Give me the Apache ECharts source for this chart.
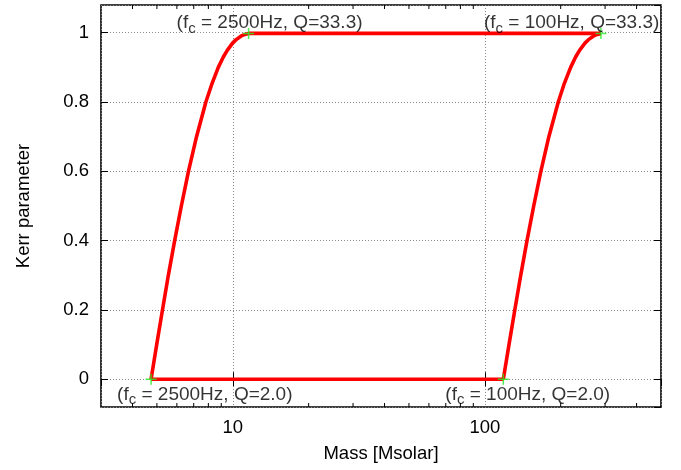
<!DOCTYPE html>
<html>
<head>
<meta charset="utf-8">
<script src="https://cdn.jsdelivr.net/npm/echarts@6/dist/echarts.min.js"></script>
<style>
  html, body { margin: 0; padding: 0; background: #fff; }
  #chart { width: 681px; height: 470px; }
</style>
</head>
<body>
<div id="chart"></div>
<script>
// Kerr spin samples shared by both constant-frequency curves
const spin = [0, 0.1, 0.2, 0.3, 0.4, 0.5, 0.6, 0.7, 0.8, 0.85, 0.9, 0.93, 0.95, 0.97, 0.98, 0.99, 0.995, 0.998];
// Mass [Msolar] along the f_c = 2500 Hz curve
const mass2500 = [4.74, 4.99, 5.26, 5.55, 5.88, 6.25, 6.67, 7.18, 7.82, 8.24, 8.76, 9.17, 9.52, 9.98, 10.31, 10.77, 11.16, 11.55];
// Mass [Msolar] along the f_c = 100 Hz curve
const mass100 = [118.4, 124.7, 131.5, 138.8, 147.0, 156.3, 166.8, 179.5, 195.6, 205.9, 219.0, 229.2, 237.9, 249.6, 257.7, 269.3, 278.9, 288.8];
// Corner annotations: frequency and quality factor text
const cornerFreq = ['2500Hz', '100Hz', '2500Hz', '100Hz'];
const cornerQ = ['33.3', '33.3', '2.0', '2.0'];
// Axis ticks
const xMajorTicks = [10, 100];
const xMinorTicks = [4, 5, 6, 7, 8, 9, 20, 30, 40, 50, 60, 70, 80, 90, 200, 300, 400];
const yTicks = [0, 0.2, 0.4, 0.6, 0.8, 1];

const FONT = '"Liberation Sans", Arial, Helvetica, sans-serif';
const last = spin.length - 1;

const leftCurve = mass2500.map((m, i) => [m, spin[i]]);
const rightCurve = mass100.map((m, i) => [m, spin[i]]);
const topEdge = [[mass2500[last], spin[last]], [mass100[last], spin[last]]];
const bottomEdge = [[mass2500[0], spin[0]], [mass100[0], spin[0]]];

// label text starts at the given horizontal offset from its corner point
const cornerPoints = [
  { value: [mass2500[last], spin[last]], offset: [-72, -11] },
  { value: [mass100[last], spin[last]], offset: [-117, -11] },
  { value: [mass2500[0], spin[0]], offset: [-34, 15] },
  { value: [mass100[0], spin[0]], offset: [-58, 15] }
].map((p, i) => ({
  value: p.value,
  label: {
    offset: p.offset,
    formatter: '{p|(f}{s|c}{p| = ' + cornerFreq[i] + ', Q=' + cornerQ[i] + ')}'
  }
}));

const richText = {
  p: { fontSize: 19, lineHeight: 19, fontFamily: FONT, color: '#000', verticalAlign: 'top' },
  s: { fontSize: 15, lineHeight: 15, fontFamily: FONT, color: '#000', verticalAlign: 'top', padding: [8, 0, 0, 0] }
};

const gridLine = { show: true, lineStyle: { color: '#8a8a8a', type: [1, 2], width: 1 } };
const tickStyle = { show: true, inside: true, length: 7, lineStyle: { color: '#000', width: 1 } };

const chart = echarts.init(document.getElementById('chart'), null, { renderer: 'canvas' });

chart.setOption({
  animation: false,
  backgroundColor: '#fff',
  grid: { left: 101, right: 20, top: 5, bottom: 63, show: true, borderColor: '#000', borderWidth: 1.6, backgroundColor: 'transparent' },
  xAxis: [
    {
      type: 'log', min: 3, max: 500, position: 'bottom',
      name: 'Mass [Msolar]', nameLocation: 'middle', nameGap: 37,
      nameTextStyle: { fontSize: 18.5, fontFamily: FONT, color: '#000' },
      axisLine: { show: false },
      axisTick: tickStyle,
      axisLabel: {
        fontSize: 18.5, fontFamily: FONT, color: '#000', margin: 11,
        showMinLabel: false, showMaxLabel: false,
        formatter: v => (xMajorTicks.some(t => Math.abs(t - v) / t < 1e-6) ? String(Math.round(v)) : '')
      },
      splitLine: gridLine
    },
    {
      type: 'log', min: 3, max: 500, position: 'top',
      axisLine: { show: false },
      axisTick: tickStyle,
      axisLabel: { show: false },
      splitLine: { show: false }
    }
  ],
  yAxis: [
    {
      type: 'value', min: -0.08, max: 1.08, position: 'left',
      name: 'Kerr parameter', nameLocation: 'middle', nameGap: 68, nameRotate: 90,
      nameTextStyle: { fontSize: 18.5, fontFamily: FONT, color: '#000' },
      axisLine: { show: false },
      axisTick: tickStyle,
      axisLabel: {
        fontSize: 18.5, fontFamily: FONT, color: '#000', margin: 12,
        showMinLabel: false, showMaxLabel: false,
        formatter: v => {
          const t = yTicks.find(t => Math.abs(t - v) < 1e-6);
          if (t === undefined) return '';
          return (t === 0 || t === 1) ? String(t) : t.toFixed(1);
        }
      },
      splitLine: gridLine
    },
    {
      type: 'value', min: -0.08, max: 1.08, position: 'right',
      axisLine: { show: false },
      axisTick: tickStyle,
      axisLabel: { show: false },
      splitLine: { show: false }
    }
  ],
  series: [
    {
      // minor log ticks on the bottom and top frame edges
      type: 'custom', xAxisIndex: 0, yAxisIndex: 0, silent: true, z: 5,
      data: xMinorTicks.map(v => [v, 0]),
      renderItem: (params, api) => {
        const x = api.coord([api.value(0), 0])[0];
        const cs = params.coordSys;
        const len = 4;
        return {
          type: 'group',
          children: [
            { type: 'line', shape: { x1: x, y1: cs.y + cs.height, x2: x, y2: cs.y + cs.height - len }, style: { stroke: '#000', lineWidth: 1 } },
            { type: 'line', shape: { x1: x, y1: cs.y, x2: x, y2: cs.y + len }, style: { stroke: '#000', lineWidth: 1 } }
          ]
        };
      }
    },
    { type: 'line', data: leftCurve, symbol: 'none', smooth: false, lineStyle: { color: '#ff0000', width: 3.6 }, z: 3 },
    { type: 'line', data: rightCurve, symbol: 'none', smooth: false, lineStyle: { color: '#ff0000', width: 3.6 }, z: 3 },
    { type: 'line', data: topEdge, symbol: 'none', lineStyle: { color: '#ff0000', width: 3.6 }, z: 3 },
    { type: 'line', data: bottomEdge, symbol: 'none', lineStyle: { color: '#ff0000', width: 3.6 }, z: 3 },
    {
      type: 'scatter', data: cornerPoints, z: 4,
      symbol: 'path://M0,5L10,5M5,0L5,10', symbolSize: 11,
      itemStyle: { color: 'none', borderColor: '#22ee22', borderWidth: 1.5 },
      label: {
        show: true, position: 'inside', align: 'left', verticalAlign: 'middle',
        rich: richText
      }
    }
  ]
});
</script>
</body>
</html>
